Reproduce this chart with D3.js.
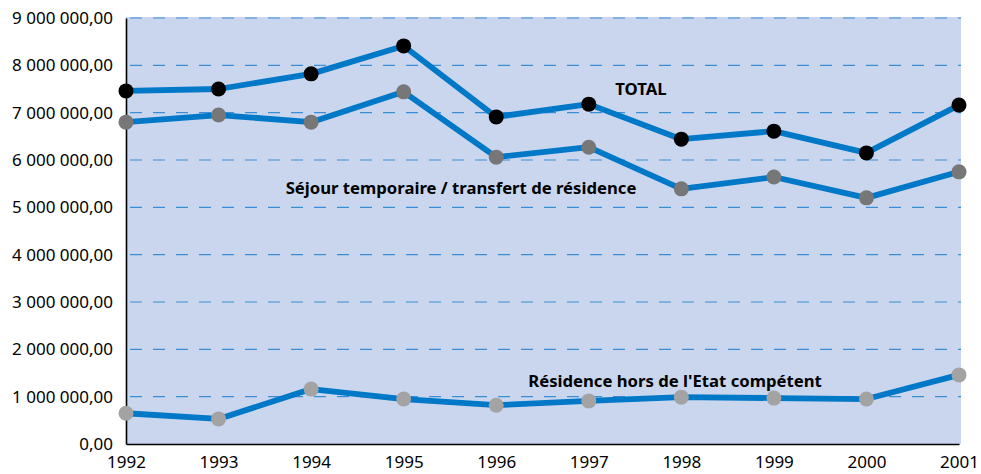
<!DOCTYPE html>
<html>
<head>
<meta charset="utf-8">
<script src="https://cdn.jsdelivr.net/npm/d3@7"></script>
<style>
  body { margin: 0; background: #fff; }
  text { font-family: "Noto Sans", "Open Sans", sans-serif; }
</style>
</head>
<body>
<div id="chart"></div>
<script>
const years = [1992, 1993, 1994, 1995, 1996, 1997, 1998, 1999, 2000, 2001];
const total = [7460000, 7500000, 7820000, 8410000, 6910000, 7180000, 6440000, 6610000, 6150000, 7160000];
const sejour = [6800000, 6950000, 6800000, 7440000, 6060000, 6270000, 5390000, 5640000, 5200000, 5750000];
const residence = [650000, 530000, 1160000, 950000, 820000, 910000, 990000, 970000, 950000, 1460000];
const yTicks = [0, 1000000, 2000000, 3000000, 4000000, 5000000, 6000000, 7000000, 8000000, 9000000];

const width = 981, height = 474;
const plotLeft = 126, plotRight = 959, plotTop = 18, plotBottom = 444;

const svg = d3.select("#chart").append("svg")
  .attr("width", width).attr("height", height);

const x = d3.scaleLinear().domain([1992, 2001]).range([plotLeft, plotRight]);
const y = d3.scaleLinear().domain([0, 9000000]).range([plotBottom, plotTop]);

// french number format: "9 000 000,00"
const fmt = v => d3.format(",.2f")(v).replace(/,/g, " ").replace(".", ",");

// plot background
svg.append("rect")
  .attr("x", plotLeft).attr("y", plotTop - 1)
  .attr("width", plotRight - plotLeft + 2).attr("height", plotBottom - plotTop + 1)
  .attr("fill", "#cad6ed");

// dashed grid
svg.append("g").selectAll("line")
  .data(yTicks.filter(d => d > 0))
  .enter().append("line")
  .attr("x1", plotLeft + 4).attr("x2", plotRight + 2)
  .attr("y1", d => y(d)).attr("y2", d => y(d))
  .attr("stroke", "#3a8ed6")
  .attr("stroke-width", 1.2)
  .attr("stroke-dasharray", "12,11");

// axes
const yAxis = svg.append("g")
  .attr("transform", `translate(${plotLeft},0)`)
  .call(d3.axisLeft(y).tickValues(yTicks).tickFormat(fmt).tickSize(0).tickPadding(13));
const xAxis = svg.append("g")
  .attr("transform", `translate(0,${plotBottom})`)
  .call(d3.axisBottom(x).tickValues(years).tickFormat(d3.format("d")).tickSize(0).tickPadding(12));

[yAxis, xAxis].forEach(a => {
  a.select(".domain").attr("stroke", "#000").attr("stroke-width", 1.6);
  a.selectAll("text").attr("font-size", 17).attr("fill", "#000")
    .style("font-family", "'Noto Sans', sans-serif");
});

// series lines and markers
const line = d3.line().x((d, i) => x(years[i])).y(d => y(d));

const series = [
  { values: residence, marker: "#a3a3a3" },
  { values: sejour, marker: "#777777" },
  { values: total, marker: "#000000" }
];

series.forEach(s => {
  svg.append("path")
    .datum(s.values)
    .attr("d", line)
    .attr("fill", "none")
    .attr("stroke", "#0078c8")
    .attr("stroke-width", 5.8)
    .attr("stroke-linejoin", "round");
  svg.append("g").selectAll("circle")
    .data(s.values)
    .enter().append("circle")
    .attr("cx", (d, i) => x(years[i]))
    .attr("cy", d => y(d))
    .attr("r", 7.5)
    .attr("fill", s.marker);
});

// series labels
const labels = [
  { text: "TOTAL", x: 641, y: 95 },
  { text: "Séjour temporaire / transfert de résidence", x: 461, y: 194 },
  { text: "Résidence hors de l'Etat compétent", x: 675, y: 387 }
];
svg.append("g").selectAll("text")
  .data(labels)
  .enter().append("text")
  .attr("x", d => d.x).attr("y", d => d.y)
  .attr("text-anchor", "middle")
  .attr("font-size", 16.7)
  .attr("font-weight", "bold")
  .attr("fill", "#000")
  .text(d => d.text);
</script>
</body>
</html>
